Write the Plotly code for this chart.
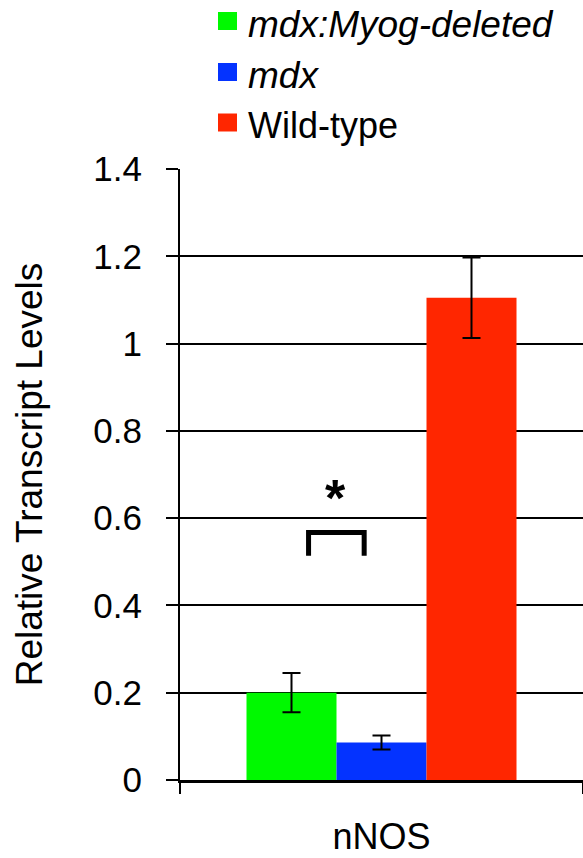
import plotly.graph_objects as go

# ---- data ----
categories = ["nNOS"]
series_names = ["mdx:Myog-deleted", "mdx", "Wild-type"]
series_italic = [True, True, False]
series_values = [[0.20], [0.086], [1.105]]
series_errors = [[0.045], [0.016], [0.092]]
series_colors = ["#00F900", "#0433FF", "#FF2600"]
y_tick_vals = [0, 0.2, 0.4, 0.6, 0.8, 1.0, 1.2, 1.4]
y_tick_text = ["0", "0.2", "0.4", "0.6", "0.8", "1", "1.2", "1.4"]

FONT = "Liberation Sans, Arial, Helvetica, sans-serif"
W, H = 583, 858
ML, MR, MT, MB = 180, 0, 169, 78
PW, PH = W - ML - MR, H - MT - MB


def px_to_paper_x(px):
    return (px - ML) / PW


def px_to_paper_y(py):
    return (H - MB - py) / PH


fig = go.Figure()
for name, vals, errs, col in zip(series_names, series_values, series_errors, series_colors):
    fig.add_trace(go.Bar(
        x=categories, y=vals, name=name,
        marker=dict(color=col, line=dict(width=0)),
        error_y=dict(type="data", array=errs, visible=True,
                     color="black", thickness=2, width=9),
        showlegend=False,
    ))

# manual legend (squares + labels)
legend_centers_px = [21, 72, 122.5]
for name, ital, col, cy in zip(series_names, series_italic, series_colors, legend_centers_px):
    fig.add_shape(type="rect", xref="paper", yref="paper",
                  x0=px_to_paper_x(218), x1=px_to_paper_x(237),
                  y0=px_to_paper_y(cy + 9), y1=px_to_paper_y(cy - 9),
                  fillcolor=col, line=dict(width=0))
    fig.add_annotation(xref="paper", yref="paper",
                       x=px_to_paper_x(246), y=px_to_paper_y(cy + 3),
                       xanchor="left", yanchor="middle", showarrow=False,
                       text=(f"<i>{name}</i>" if ital else name),
                       font=dict(family=FONT, size=(37 if ital else 36), color="black"))

# significance bracket between mdx:Myog-deleted and mdx
bx0, bx1, by0, by1 = -0.181, -0.043, 0.514, 0.567
fig.add_shape(type="path", xref="x", yref="y",
              path=f"M {bx0},{by0} L {bx0},{by1} L {bx1},{by1} L {bx1},{by0}",
              line=dict(color="black", width=5))
fig.add_annotation(x=-0.113, y=0.646, xref="x", yref="y", text="<b>*</b>",
                   showarrow=False, font=dict(family=FONT, size=52, color="black"),
                   yanchor="middle")

fig.update_layout(
    width=W, height=H,
    margin=dict(l=ML, r=MR, t=MT, b=MB, autoexpand=False),
    paper_bgcolor="white", plot_bgcolor="white",
    barmode="group", bargap=0.33, bargroupgap=0,
    font=dict(family=FONT, size=36, color="black"),
    showlegend=False,
)
fig.update_xaxes(
    type="category", showgrid=False, showline=True, linecolor="black", linewidth=2.5,
    ticks="outside", tickson="boundaries", ticklen=11, tickwidth=2, tickcolor="black",
    tickfont=dict(family=FONT, size=36, color="black"), ticklabelstandoff=23,
    range=[-0.5, 0.5], automargin=False,
)
fig.update_yaxes(
    range=[0, 1.4], tickvals=y_tick_vals, ticktext=y_tick_text,
    showgrid=True, gridcolor="black", gridwidth=2, zeroline=False,
    showline=True, linecolor="black", linewidth=2,
    ticks="outside", ticklen=12, tickwidth=2, tickcolor="black",
    tickfont=dict(family=FONT, size=35, color="black"), ticklabelstandoff=17,
    title=dict(text="Relative Transcript Levels", standoff=39,
               font=dict(family=FONT, size=37, color="black")),
    automargin=False,
)

fig.write_html("out.html", config={"displayModeBar": False},
               post_script="document.body.style.margin='0';document.body.style.overflow='hidden';")
